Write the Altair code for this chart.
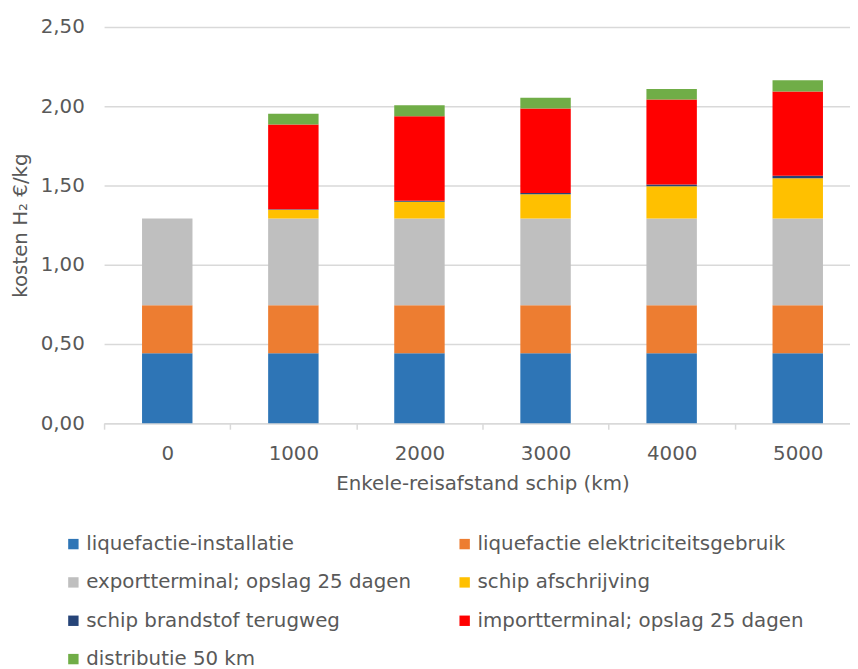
import altair as alt
import pandas as pd

categories = ["0", "1000", "2000", "3000", "4000", "5000"]
series = [
    "liquefactie-installatie",
    "liquefactie elektriciteitsgebruik",
    "exportterminal; opslag 25 dagen",
    "schip afschrijving",
    "schip brandstof terugweg",
    "importterminal; opslag 25 dagen",
    "distributie 50 km",
]
liquefactie_installatie = [0.442, 0.442, 0.442, 0.442, 0.442, 0.442]
liquefactie_elektriciteit = [0.302, 0.302, 0.302, 0.302, 0.302, 0.302]
exportterminal = [0.548, 0.548, 0.548, 0.548, 0.548, 0.548]
schip_afschrijving = [0.0, 0.055, 0.105, 0.152, 0.203, 0.254]
schip_brandstof = [0.0, 0.003, 0.006, 0.009, 0.012, 0.015]
importterminal = [0.0, 0.535, 0.534, 0.533, 0.535, 0.532]
distributie = [0.0, 0.068, 0.069, 0.067, 0.067, 0.071]
colors = ["#2E75B6", "#ED7D31", "#BFBFBF", "#FFC000", "#264478", "#FF0000", "#70AD47"]

all_values = [liquefactie_installatie, liquefactie_elektriciteit, exportterminal,
              schip_afschrijving, schip_brandstof, importterminal, distributie]
rows = []
for si, (name, vals) in enumerate(zip(series, all_values)):
    for c, v in zip(categories, vals):
        rows.append({"afstand": c, "serie": name, "order": si, "kosten": v})
df = pd.DataFrame(rows)

FONT = "DejaVu Sans"
GREY = "#595959"
W = 753
STEP = 127.3

chart = alt.Chart(df).mark_bar().encode(
    x=alt.X("afstand:N", sort=categories,
            scale=alt.Scale(paddingInner=0.6, paddingOuter=0.2577, align=0.584),
            axis=alt.Axis(title="Enkele-reisafstand schip (km)", labelAngle=0,
                          tickOffset=-STEP / 2, labelOffset=STEP / 2,
                          domainColor="#d9d9d9", domainWidth=1.5,
                          tickColor="#d9d9d9", tickWidth=1.5, tickSize=6,
                          labelPadding=15, titlePadding=10,
                          titleX=382, titleAnchor="middle", titleAlign="center")),
    y=alt.Y("kosten:Q", stack="zero",
            scale=alt.Scale(domain=[0, 2.5], nice=False),
            axis=alt.Axis(title="kosten H₂ €/kg", values=[0, 0.5, 1, 1.5, 2, 2.5],
                          labelExpr="replace(format(datum.value, '.2f'), '.', ',')",
                          ticks=False, domain=False, gridColor="#d9d9d9", gridWidth=1.5,
                          labelPadding=20, titlePadding=10)),
    color=alt.Color("serie:N", sort=series,
                    scale=alt.Scale(domain=series, range=colors),
                    legend=alt.Legend(title=None, orient="none", legendX=-41, legendY=512,
                                      direction="horizontal",
                                      columns=2, columnPadding=43, rowPadding=18.7,
                                      symbolType="square", symbolSize=110,
                                      symbolStrokeWidth=0, labelOffset=3,
                                      labelFontSize=20, labelFont=FONT, labelColor=GREY,
                                      labelLimit=500)),
    order=alt.Order("order:Q", sort="ascending"),
).properties(
    width=W, height=400,
    background="white",
    autosize=alt.AutoSizeParams(type="none"),
    padding={"left": 97, "top": 16, "right": 0, "bottom": 253},
).configure_view(stroke=None).configure_axis(
    labelFont=FONT, titleFont=FONT, labelFontSize=20, titleFontSize=20,
    labelColor=GREY, titleColor=GREY, titleFontWeight="normal",
)

chart.save("out.html", embed_options={"renderer": "svg", "actions": False})
